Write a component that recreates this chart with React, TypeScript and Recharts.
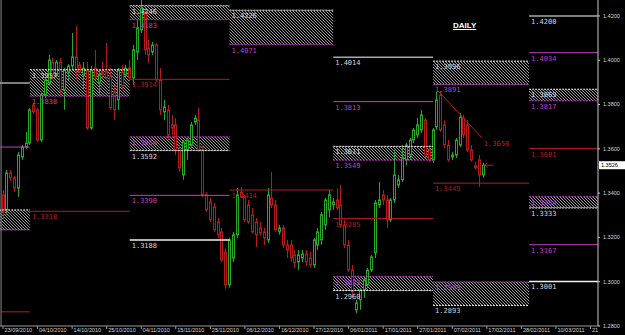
import { ComposedChart, Bar, XAxis, YAxis, ReferenceLine, ReferenceArea, ReferenceDot } from "recharts";

// daily bars, 23/09/2010 .. 16/02/2011 (broker feed with sunday bars)
const openPrices = [
  1.3392, 1.3324, 1.3491, 1.3469, 1.3423, 1.3563, 1.3608, 1.3626, 1.3798, 1.3776,
  1.3640, 1.3843, 1.3898, 1.3992, 1.3934, 1.3992, 1.3866, 1.3947, 1.3974, 1.4015,
  1.3979, 1.3934, 1.3956, 1.3694, 1.3965, 1.3898, 1.3947, 1.3947, 1.3929, 1.3857,
  1.3821, 1.3947, 1.3934, 1.3965, 1.3920, 1.4037, 1.4137, 1.4218, 1.4055, 1.4037,
  1.4069, 1.3911, 1.3767, 1.3776, 1.3708, 1.3708, 1.3595, 1.3482, 1.3595, 1.3617,
  1.3721, 1.3730, 1.3595, 1.3392, 1.3360, 1.3338, 1.3270, 1.3225, 1.3134, 1.2986,
  1.3107, 1.3212, 1.3405, 1.3383, 1.3347, 1.3302, 1.3270, 1.3243, 1.3225, 1.3189,
  1.3378, 1.3347, 1.3225, 1.3243, 1.3166, 1.3166, 1.3121, 1.3089, 1.3107, 1.3125,
  1.3107, 1.3076, 1.3166, 1.3189, 1.3256, 1.3324, 1.3347, 1.3369, 1.3347, 1.3256,
  1.3166, 1.3053, 1.2873, 1.2918, 1.2963, 1.2986, 1.3053, 1.3130, 1.3347, 1.3392,
  1.3369, 1.3279, 1.3369, 1.3437, 1.3460, 1.3550, 1.3572, 1.3640, 1.3663, 1.3685,
  1.3730, 1.3595, 1.3550, 1.3699, 1.3843, 1.3708, 1.3617, 1.3563, 1.3572, 1.3617,
  1.3739, 1.3708, 1.3595, 1.3523, 1.3550, 1.3482,
];
const highPrices = [
  1.3414, 1.3505, 1.3505, 1.3478, 1.3586, 1.3617, 1.3676, 1.3785, 1.3807, 1.3785,
  1.3857, 1.3925, 1.4024, 1.4010, 1.4001, 1.4010, 1.3965, 1.3983, 1.4123, 1.4155,
  1.3992, 1.3992, 1.3992, 1.3974, 1.4047, 1.3956, 1.3992, 1.4078, 1.3965, 1.3888,
  1.3965, 1.3979, 1.3979, 1.4001, 1.4069, 1.4182, 1.4282, 1.4236, 1.4092, 1.4083,
  1.4078, 1.3965, 1.3821, 1.3798, 1.3753, 1.3739, 1.3617, 1.3640, 1.3649, 1.3721,
  1.3753, 1.3785, 1.3617, 1.3405, 1.3378, 1.3356, 1.3288, 1.3243, 1.3152, 1.3198,
  1.3225, 1.3423, 1.3428, 1.3392, 1.3369, 1.3333, 1.3288, 1.3270, 1.3243, 1.3423,
  1.3496, 1.3369, 1.3256, 1.3256, 1.3189, 1.3189, 1.3143, 1.3143, 1.3143, 1.3143,
  1.3134, 1.3198, 1.3243, 1.3315, 1.3378, 1.3414, 1.3378, 1.3423, 1.3437, 1.3279,
  1.3189, 1.3076, 1.2918, 1.2972, 1.3017, 1.3062, 1.3121, 1.3369, 1.3450, 1.3414,
  1.3392, 1.3378, 1.3595, 1.3482, 1.3617, 1.3626, 1.3649, 1.3694, 1.3739, 1.3776,
  1.3739, 1.3617, 1.3694, 1.3857, 1.3861, 1.3730, 1.3640, 1.3586, 1.3649, 1.3762,
  1.3753, 1.3730, 1.3617, 1.3541, 1.3572, 1.3537,
];
const lowPrices = [
  1.3279, 1.3302, 1.3455, 1.3405, 1.3383, 1.3550, 1.3599, 1.3617, 1.3758, 1.3631,
  1.3631, 1.3830, 1.3884, 1.3911, 1.3920, 1.3843, 1.3776, 1.3911, 1.3956, 1.3911,
  1.3934, 1.3866, 1.3685, 1.3685, 1.3911, 1.3843, 1.3920, 1.3911, 1.3776, 1.3730,
  1.3776, 1.3866, 1.3920, 1.3902, 1.3888, 1.4001, 1.4123, 1.4024, 1.3988, 1.4024,
  1.3902, 1.3753, 1.3730, 1.3640, 1.3663, 1.3572, 1.3496, 1.3460, 1.3550, 1.3604,
  1.3708, 1.3586, 1.3383, 1.3315, 1.3270, 1.3225, 1.3198, 1.3089, 1.2968, 1.2972,
  1.3089, 1.3198, 1.3378, 1.3270, 1.3261, 1.3216, 1.3157, 1.3207, 1.3166, 1.3175,
  1.3333, 1.3225, 1.3212, 1.3152, 1.3107, 1.3089, 1.3062, 1.3053, 1.3089, 1.3071,
  1.3062, 1.3062, 1.3143, 1.3166, 1.3234, 1.3292, 1.3324, 1.3324, 1.3243, 1.3152,
  1.3044, 1.2927, 1.2859, 1.2873, 1.2927, 1.2972, 1.3044, 1.3107, 1.3333, 1.3347,
  1.3243, 1.3270, 1.3356, 1.3423, 1.3450, 1.3527, 1.3550, 1.3626, 1.3649, 1.3672,
  1.3559, 1.3541, 1.3537, 1.3685, 1.3676, 1.3604, 1.3541, 1.3550, 1.3559, 1.3608,
  1.3649, 1.3586, 1.3541, 1.3505, 1.3428, 1.3469,
];
const closePrices = [
  1.3315, 1.3491, 1.3469, 1.3423, 1.3572, 1.3608, 1.3626, 1.3776, 1.3767, 1.3640,
  1.3843, 1.3911, 1.4001, 1.3934, 1.3992, 1.3866, 1.3956, 1.3974, 1.4015, 1.3956,
  1.3947, 1.3965, 1.3694, 1.3956, 1.3925, 1.3934, 1.3938, 1.3920, 1.3785, 1.3776,
  1.3956, 1.3884, 1.3965, 1.3920, 1.4047, 1.4146, 1.4236, 1.4047, 1.4024, 1.4069,
  1.3911, 1.3776, 1.3789, 1.3663, 1.3694, 1.3595, 1.3514, 1.3631, 1.3640, 1.3708,
  1.3739, 1.3595, 1.3392, 1.3324, 1.3279, 1.3234, 1.3212, 1.3098, 1.2986, 1.3189,
  1.3212, 1.3392, 1.3383, 1.3279, 1.3270, 1.3225, 1.3212, 1.3220, 1.3198, 1.3392,
  1.3347, 1.3234, 1.3243, 1.3166, 1.3143, 1.3107, 1.3085, 1.3121, 1.3125, 1.3089,
  1.3076, 1.3189, 1.3225, 1.3302, 1.3369, 1.3392, 1.3360, 1.3333, 1.3256, 1.3166,
  1.3053, 1.2954, 1.2904, 1.2963, 1.3008, 1.3053, 1.3112, 1.3356, 1.3369, 1.3369,
  1.3279, 1.3369, 1.3482, 1.3460, 1.3559, 1.3617, 1.3640, 1.3685, 1.3708, 1.3753,
  1.3572, 1.3550, 1.3685, 1.3821, 1.3685, 1.3617, 1.3550, 1.3572, 1.3640, 1.3744,
  1.3663, 1.3595, 1.3550, 1.3514, 1.3482, 1.3526,
];

const dateLabels = [
  "23/09/2010", "04/10/2010", "14/10/2010", "25/10/2010", "04/11/2010", "15/11/2010",
  "25/11/2010", "06/12/2010", "16/12/2010", "27/12/2010", "06/01/2011", "17/01/2011",
  "27/01/2011", "07/02/2011", "17/02/2011", "28/02/2011", "10/03/2011", "21/03/2011",
];
const labelBars = [0, 9, 18, 27, 36, 45, 54, 63, 72, 81, 90, 99, 108, 117, 126, 135, 144, 153];
const priceTicks = [1.28, 1.3, 1.32, 1.34, 1.36, 1.38, 1.4, 1.42];

// monthly levels (sep .. mar), bar index where each month starts
const monthStart = [-19, 7, 33, 59, 86, 112, 137];
const monthEnd = [7, 33, 59, 86, 112, 137, 160];
const outerHigh = [1.3897, null, null, null, 1.4014, null, 1.42];
const midHigh = [1.3608, null, null, null, 1.3813, null, 1.4034];
const upperTop = [1.3324, 1.3957, 1.4246, 1.4226, 1.3611, 1.3996, 1.3869];
const upperBottom = [1.3234, 1.3838, 1.4183, 1.4071, 1.3549, 1.3891, 1.3817];
const pivot = [1.2864, 1.3318, 1.3914, 1.3414, 1.3285, 1.3445, 1.3601];
const lowerTop = [null, null, 1.3654, null, 1.3023, 1.2999, 1.3384];
const lowerBottom = [null, null, 1.3592, null, 1.296, 1.2893, 1.3333];
const midLow = [null, null, 1.339, null, null, null, 1.3167];
const outerLow = [null, null, 1.3188, null, null, null, 1.3001];

const trendBars = [113.5, 124.7];
const trendPrices = [1.3858, 1.365];

const X_MIN = -0.78;
const X_MAX = 154.95;

const GREEN = "#25a825";
const RED = "#b41a1a";
const LEVEL_RED = "#b81c1c";
const MAGENTA = "#c33fc3";
const WHITE = "#f2f2f2";
const GRAY = "#a8a8a8";
const TEXT = "#d8d8d8";

const candles = openPrices.map((open, i) => ({
  i,
  open,
  high: highPrices[i],
  low: lowPrices[i],
  close: closePrices[i],
}));
const currentPrice = closePrices[closePrices.length - 1];

function Candle(props: any) {
  const { x, y, width, height, payload } = props;
  if (payload == null || height == null) return null;
  const { open, close, high, low } = payload;
  const color = close >= open ? GREEN : RED;
  const ratio = height / (high - low);
  const yO = y + (high - open) * ratio;
  const yC = y + (high - close) * ratio;
  const cx = Math.round(x + width / 2) + 0.5;
  const top = Math.min(yO, yC);
  const bot = Math.max(yO, yC);
  return (
    <g>
      <line x1={cx} x2={cx} y1={y} y2={y + height} stroke={color} strokeWidth={1} />
      {bot - top < 1.2 ? (
        <line x1={cx - 1.5} x2={cx + 1.5} y1={top} y2={top} stroke={color} strokeWidth={1} />
      ) : (
        <rect x={cx - 1} y={top} width={2} height={bot - top} fill="#000" stroke={color} strokeWidth={1} />
      )}
    </g>
  );
}

function levelLabel(value: number, color: string) {
  return (props: any) => {
    const vb = props.viewBox;
    if (!vb) return null;
    return (
      <text x={vb.x + 2} y={vb.y + 8} fill={color} fontSize={7} fontFamily="DejaVu Sans Mono">
        {value.toFixed(4)}
      </text>
    );
  };
}

function renderDateTick(props: any) {
  const { x, y, payload } = props;
  const k = labelBars.indexOf(payload.value);
  return (
    <text x={x + 1.5} y={y + 3} fill={TEXT} fontSize={5.5} fontFamily="Liberation Sans" clipPath="url(#dateClip)">
      {dateLabels[k]}
    </text>
  );
}

function priceTag(props: any) {
  const vb = props.viewBox;
  if (!vb) return null;
  const x = vb.x + vb.width + 1;
  return (
    <g>
      <rect x={x} y={vb.y - 4} width={26} height={8} fill="#fff" />
      <text x={x + 2} y={vb.y + 2.2} fill="#000" fontSize={5.5} fontFamily="Liberation Sans">
        {currentPrice.toFixed(4)}
      </text>
    </g>
  );
}

function trendLabel(props: any) {
  const vb = props.viewBox;
  if (!vb) return null;
  return (
    <text x={vb.x + 2} y={vb.y + 8} fill={LEVEL_RED} fontSize={7} fontFamily="DejaVu Sans Mono">
      {trendPrices[1].toFixed(4)}
    </text>
  );
}

function priceArrow(props: any) {
  const { cx, cy } = props;
  return (
    <g stroke={LEVEL_RED} strokeWidth={1} fill="none">
      <line x1={cx - 4} x2={cx + 5} y1={cy} y2={cy} />
      <polyline points={`${cx - 1},${cy - 2.5} ${cx - 4},${cy} ${cx - 1},${cy + 2.5}`} />
    </g>
  );
}

function buildLevels() {
  const out: any[] = [];
  monthStart.forEach((start, k) => {
    const end = monthEnd[k];
    // labels sit at the month's first bar; september's is off the chart
    const showLabel = start >= X_MIN;
    const line = (v: number, stroke: string, width: number, dash: string | undefined, labelColor: string, key: string) =>
      out.push(
        <ReferenceLine
          key={key + k}
          segment={[{ x: start, y: v }, { x: end, y: v }]}
          stroke={stroke}
          strokeWidth={width}
          strokeDasharray={dash}
          ifOverflow="hidden"
          label={showLabel ? levelLabel(v, labelColor) : undefined}
        />
      );
    const zone = (top: number, bottom: number, key: string) =>
      out.push(
        <ReferenceArea key={key + k} x1={start} x2={end} y1={bottom} y2={top} fill="url(#hatch)" fillOpacity={1} stroke="none" ifOverflow="hidden" />
      );
    const uT = upperTop[k], uB = upperBottom[k], lT = lowerTop[k], lB = lowerBottom[k];
    if (uT != null && uB != null) {
      zone(uT, uB, "uz");
      line(uT, WHITE, 1, "2 1", TEXT, "ut");
      line(uB, MAGENTA, 1, "2 1", MAGENTA, "ub");
    }
    if (lT != null && lB != null) {
      zone(lT, lB, "lz");
      line(lT, MAGENTA, 1, "2 1", MAGENTA, "lt");
      line(lB, WHITE, 1, "2 1", TEXT, "lb");
    }
    const oh = outerHigh[k], mh = midHigh[k], ml = midLow[k], ol = outerLow[k];
    if (oh != null) line(oh, GRAY, 1.5, undefined, TEXT, "oh");
    if (mh != null) line(mh, MAGENTA, 1, undefined, MAGENTA, "mh");
    line(pivot[k], LEVEL_RED, 1, undefined, LEVEL_RED, "pv");
    if (ml != null) line(ml, MAGENTA, 1, undefined, MAGENTA, "ml");
    if (ol != null) line(ol, WHITE, 1.5, undefined, TEXT, "ol");
  });
  return out;
}

export default function App() {
  return (
    <div style={{ position: "absolute", left: 0, top: 0, width: 625, height: 335, background: "#000", overflow: "hidden" }}>
      <svg width={0} height={0} style={{ position: "absolute" }}>
        <defs>
          <pattern id="hatch" patternUnits="userSpaceOnUse" width={3} height={3}>
            <path d="M-1,-1 L4,4 M-1,2 L1,4 M2,-1 L4,1" stroke="#9c9c9c" strokeWidth={1} />
          </pattern>
          <clipPath id="dateClip">
            <rect x={0} y={0} width={598} height={335} />
          </clipPath>
        </defs>
      </svg>
      <ComposedChart width={625} height={335} data={candles} margin={{ top: 0, right: 0, bottom: 0, left: 0 }}>
        <XAxis
          dataKey="i"
          type="number"
          domain={[X_MIN, X_MAX]}
          allowDataOverflow
          ticks={labelBars}
          interval={0}
          height={9}
          tickSize={3}
          tickMargin={0}
          tick={renderDateTick}
          stroke="#9a9a9a"
        />
        <YAxis
          orientation="right"
          width={27}
          domain={[1.28, 1.4272]}
          allowDataOverflow
          ticks={priceTicks}
          tickFormatter={(v: number) => v.toFixed(4)}
          tickSize={2}
          tickMargin={3}
          tick={{ fill: TEXT, fontSize: 5.5, fontFamily: "Liberation Sans" }}
          stroke="#c8c8c8"
        />
        <ReferenceLine x={-0.5} stroke="#8a8a8a" />
        {buildLevels()}
        <ReferenceLine
          segment={[{ x: trendBars[0], y: trendPrices[0] }, { x: trendBars[1], y: trendPrices[1] }]}
          stroke={LEVEL_RED}
          strokeWidth={1}
        />
        <ReferenceDot x={trendBars[1]} y={trendPrices[1]} r={0} fill="none" stroke="none" label={trendLabel} />
        <ReferenceDot x={126.5} y={currentPrice} r={0} shape={priceArrow} />
        <ReferenceLine y={currentPrice} stroke="none" label={priceTag} />
        <Bar dataKey={(d: any) => [d.low, d.high]} barSize={3} shape={Candle} isAnimationActive={false} />
      </ComposedChart>
      <div
        style={{
          position: "absolute",
          left: 453,
          top: 21,
          color: "#fff",
          fontFamily: "Liberation Sans",
          fontWeight: "bold",
          fontSize: 8,
          lineHeight: "9px",
          textDecoration: "underline",
        }}
      >
        DAILY
      </div>
    </div>
  );
}
